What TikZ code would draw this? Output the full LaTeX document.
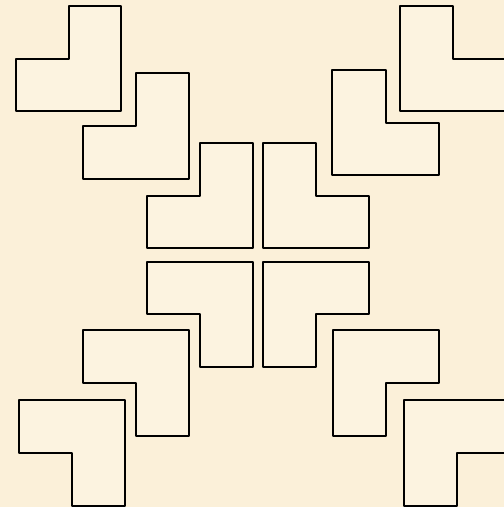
\documentclass[tikz,border=0pt]{standalone}
\definecolor{parch}{RGB}{251,240,217}
\definecolor{piece}{RGB}{252,243,224}
\begin{document}
\begin{tikzpicture}[x=1pt,y=-1pt,
  lpiece/.style={draw=black,fill=piece,line width=2pt,line join=round}]
\useasboundingbox (0,0) rectangle (504,507);
\fill[parch] (0,0) rectangle (504,507);
\begin{scope}
\clip (0,0) rectangle (504,507);
% top-left outer
\draw[lpiece] (69,6) -- (121,6) -- (121,111) -- (16,111) -- (16,59) -- (69,59) -- cycle;
\draw[lpiece] (136,73) -- (189,73) -- (189,179) -- (83,179) -- (83,126) -- (136,126) -- cycle;
% top-right outer
\draw[lpiece] (400,6) -- (453,6) -- (453,59) -- (510,59) -- (510,111) -- (400,111) -- cycle;
\draw[lpiece] (332,70) -- (386,70) -- (386,123) -- (439,123) -- (439,175) -- (332,175) -- cycle;
% centre
\draw[lpiece] (200,143) -- (253,143) -- (253,248) -- (147,248) -- (147,196) -- (200,196) -- cycle;
\draw[lpiece] (263,143) -- (316,143) -- (316,196) -- (369,196) -- (369,248) -- (263,248) -- cycle;
\draw[lpiece] (147,262) -- (253,262) -- (253,367) -- (200,367) -- (200,314) -- (147,314) -- cycle;
\draw[lpiece] (263,262) -- (369,262) -- (369,314) -- (316,314) -- (316,367) -- (263,367) -- cycle;
% bottom-left outer
\draw[lpiece] (83,330) -- (189,330) -- (189,436) -- (136,436) -- (136,383) -- (83,383) -- cycle;
\draw[lpiece] (19,400) -- (125,400) -- (125,506) -- (72,506) -- (72,453) -- (19,453) -- cycle;
% bottom-right outer
\draw[lpiece] (333,330) -- (439,330) -- (439,383) -- (386,383) -- (386,436) -- (333,436) -- cycle;
\draw[lpiece] (404,400) -- (510,400) -- (510,453) -- (457,453) -- (457,506) -- (404,506) -- cycle;
\end{scope}
\end{tikzpicture}
\end{document}
